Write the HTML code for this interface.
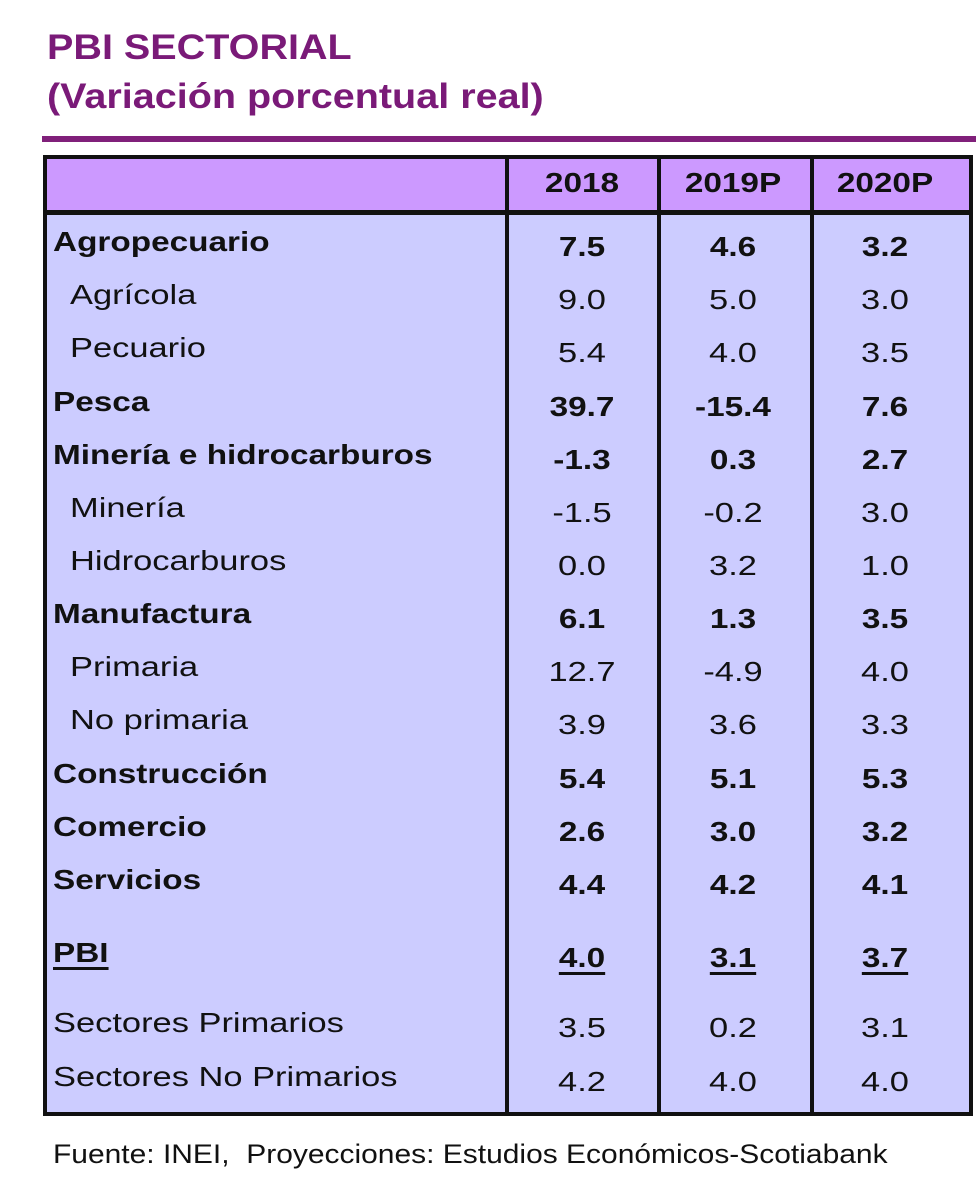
<!DOCTYPE html>
<html><head><meta charset="utf-8"><style>
body{margin:0;width:980px;height:1185px;background:#fff;position:relative;overflow:hidden;font-family:"Liberation Sans",sans-serif;color:#111}
.t{position:absolute;left:47px;color:#7a1a78;font-weight:bold;font-size:35px;white-space:nowrap;transform:scaleX(1.13);transform-origin:left center}
.rule{position:absolute;left:42px;top:136px;width:934px;height:6px;background:#80207a}
.tbl{position:absolute;left:43px;top:155px;width:922px;height:953px;border:4px solid #111;background:#ccccff}
.hdr{position:absolute;left:0;top:0;width:922px;height:51px;background:#cc99ff;border-bottom:5px solid #111}
.vl{position:absolute;top:0;width:4px;height:953px;background:#111}
.c{position:absolute;font-size:28px;white-space:nowrap;transform:translateY(-50%) scaleX(1.23);transform-origin:left center}
.c.b{transform:translateY(-50%) scaleX(1.19)}
.n{text-align:center;width:140px;transform-origin:center center!important}
.b{font-weight:bold}
.u{text-decoration:underline;text-decoration-thickness:3px;text-underline-offset:5px}
.foot{position:absolute;left:53px;top:1139px;font-size:27px;white-space:nowrap;transform:scaleX(1.11);transform-origin:left center}
</style></head><body>
<div class="t" style="top:28px">PBI SECTORIAL</div>
<div class="t" style="top:77px">(Variación porcentual real)</div>
<div class="rule"></div>
<div class="tbl">
<div class="hdr"></div>
<div class="vl" style="left:458px"></div>
<div class="vl" style="left:610px"></div>
<div class="vl" style="left:763px"></div>
</div>
<div id="cells"></div>
<div class="foot">Fuente: INEI,&nbsp; Proyecciones: Estudios Económicos-Scotiabank</div>
<script>
const years=["2018","2019P","2020P"];
const labels=["Agropecuario","Agrícola","Pecuario","Pesca","Minería e hidrocarburos","Minería","Hidrocarburos","Manufactura","Primaria","No primaria","Construcción","Comercio","Servicios","PBI","Sectores Primarios","Sectores No Primarios"];
const v2018=["7.5","9.0","5.4","39.7","-1.3","-1.5","0.0","6.1","12.7","3.9","5.4","2.6","4.4","4.0","3.5","4.2"];
const v2019=["4.6","5.0","4.0","-15.4","0.3","-0.2","3.2","1.3","-4.9","3.6","5.1","3.0","4.2","3.1","0.2","4.0"];
const v2020=["3.2","3.0","3.5","7.6","2.7","3.0","1.0","3.5","4.0","3.3","5.3","3.2","4.1","3.7","3.1","4.0"];
const bold=[1,0,0,1,1,0,0,1,0,0,1,1,1,1,0,0];
const indent=[0,1,1,0,0,1,1,0,1,1,0,0,0,0,0,0];
const rowY=[244,297,350,404,457,510,563,616,669,722,776,829,882,955,1025,1079];
const colX=[582,733,885];
const host=document.getElementById('cells');
function add(txt,cls,x,y,isNum){const d=document.createElement('div');d.className='c '+cls;d.textContent=txt;d.style.top=y+'px';d.style.left=(isNum?x-70:x)+'px';host.appendChild(d);return d;}
years.forEach((y,i)=>{const d=add(y,'n b',colX[i],183,true);

});
const cols=[v2018,v2019,v2020];
labels.forEach((l,r)=>{
 const pbi=l==='PBI';
 const cls=(bold[r]?'b ':'')+(pbi?'u':'');
 const d=add(l,cls,indent[r]?70:53,rowY[r]-2,false);
 
 
 cols.forEach((c,i)=>{const e=add(c[r],'n '+cls,colX[i],rowY[r]+3,true);
 
 });
});
</script>
</body></html>
